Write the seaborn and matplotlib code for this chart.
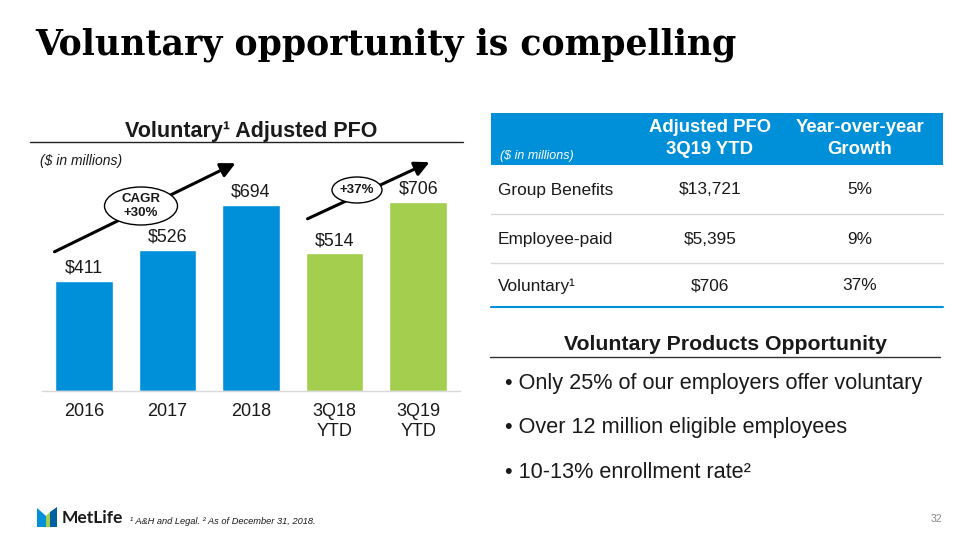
import matplotlib.pyplot as plt
import matplotlib.patches as mpatches
import seaborn as sns

# chart data
periods = ["2016", "2017", "2018", "3Q18\nYTD", "3Q19\nYTD"]
pfo_values = [411, 526, 694, 514, 706]
bar_colors = ["#0090DA", "#0090DA", "#0090DA", "#A4CE4E", "#A4CE4E"]

# table data
row_labels = ["Group Benefits", "Employee-paid", "Voluntary¹"]
row_pfo = ["$13,721", "$5,395", "$706"]
row_growth = ["5%", "9%", "37%"]

bullets = [
    "Only 25% of our employers offer voluntary",
    "Over 12 million eligible employees",
    "10-13% enrollment rate²",
]

BLUE = "#0090DA"
GREEN = "#A4CE4E"
W, H = 960, 540


def fx(x):
    return x / W


def fy(y):
    return 1 - y / H


sns.set_theme(style="white")
plt.rcParams["font.family"] = ["Liberation Sans", "DejaVu Sans"]

fig = plt.figure(figsize=(9.6, 5.4), dpi=100)

# bar chart axes: baseline at y=391px, spans x 42..460px
ymax = 940
ax_h = ymax * 0.268
ax = fig.add_axes([fx(42), fy(391), fx(460) - fx(42), ax_h / H])
sns.barplot(x=periods, y=pfo_values, hue=periods, palette=bar_colors,
            legend=False, width=0.69, saturation=1, ax=ax)
ax.set_xlim(-0.5, 4.5)
ax.set_ylim(0, ymax)
for c in ax.containers:
    ax.bar_label(c, fmt="${:,.0f}", fontsize=12.8, padding=3, color="#1a1a1a")
ax.set_xlabel("")
ax.set_ylabel("")
ax.set_yticks([])
ax.tick_params(axis="x", length=0, labelsize=13, pad=9, colors="#1a1a1a")
for s in ["top", "left", "right"]:
    ax.spines[s].set_visible(False)
ax.spines["bottom"].set_color("#D9D9D9")
ax.spines["bottom"].set_linewidth(1)
ax.set_facecolor("none")

# main title
fig.text(fx(35), fy(54), "Voluntary opportunity is compelling",
         family="DejaVu Serif", fontweight="bold", fontsize=25,
         va="baseline", ha="left", color="black")

# left panel title + rule
fig.text(fx(251), fy(131), "Voluntary¹ Adjusted PFO", fontsize=15.5,
         fontweight="bold", ha="center", va="center", color="#1a1a1a")
fig.add_artist(plt.Line2D([fx(30), fx(463)], [fy(142), fy(142)],
                          color="#222222", lw=1))
fig.text(fx(40), fy(161), "($ in millions)", fontsize=10, style="italic",
         ha="left", va="center", color="#1a1a1a")

# growth arrows
for (x0, y0), (x1, y1) in [((52, 253), (238, 162)), ((305, 220), (432, 161))]:
    fig.add_artist(mpatches.FancyArrowPatch(
        (fx(x0), fy(y0)), (fx(x1), fy(y1)), transform=fig.transFigure,
        arrowstyle="-|>", mutation_scale=22, lw=2.2, color="black", zorder=4))

for (cx, cy, ew, eh, label) in [(141, 206, 73, 38, "CAGR\n+30%"),
                                (357, 190, 50, 26, "+37%")]:
    fig.add_artist(mpatches.Ellipse((fx(cx), fy(cy)), ew / W, eh / H,
                                    transform=fig.transFigure, facecolor="white",
                                    edgecolor="black", lw=1, zorder=5))
    fig.text(fx(cx), fy(cy), label, fontsize=9.5, fontweight="bold",
             ha="center", va="center", linespacing=1.3, zorder=6,
             color="#1a1a1a")

# table
fig.add_artist(mpatches.Rectangle((fx(491), fy(165)), (943 - 491) / W, 52 / H,
                                  transform=fig.transFigure, color=BLUE, lw=0))
col_x = [710, 860]
for cx, (l1, l2) in zip(col_x, [("Adjusted PFO", "3Q19 YTD"),
                                ("Year-over-year", "Growth")]):
    fig.text(fx(cx), fy(128), l1, fontsize=13.3, fontweight="bold",
             color="white", ha="center", va="center")
    fig.text(fx(cx), fy(150), l2, fontsize=13.3, fontweight="bold",
             color="white", ha="center", va="center")
fig.text(fx(500), fy(156), "($ in millions)", fontsize=9, style="italic",
         color="white", ha="left", va="center")

row_y = [190, 239, 286]
for y, lab, v, g in zip(row_y, row_labels, row_pfo, row_growth):
    fig.text(fx(498), fy(y), lab, fontsize=12.4, ha="left", va="center",
             color="#1a1a1a")
    fig.text(fx(col_x[0]), fy(y), v, fontsize=12.4, ha="center", va="center",
             color="#1a1a1a")
    fig.text(fx(col_x[1]), fy(y), g, fontsize=12.4, ha="center", va="center",
             color="#1a1a1a")
for y in [214, 263]:
    fig.add_artist(plt.Line2D([fx(491), fx(943)], [fy(y), fy(y)],
                              color="#D9D9D9", lw=1))
fig.add_artist(plt.Line2D([fx(491), fx(943)], [fy(307), fy(307)],
                          color=BLUE, lw=1.5))

# opportunity box
fig.text(fx(725), fy(344), "Voluntary Products Opportunity", fontsize=15.3,
         fontweight="bold", ha="center", va="center", color="#1a1a1a")
fig.add_artist(plt.Line2D([fx(490), fx(940)], [fy(357), fy(357)],
                          color="#333333", lw=1))
for y, b in zip([383, 428, 472], bullets):
    fig.text(fx(505), fy(y), "• " + b, fontsize=15.6, ha="left", va="center",
             color="#1a1a1a")

# footer: logo, footnote, page number
logo_parts = [
    ([(37, 508), (46, 516), (46, 527), (37, 527)], BLUE),
    ([(46, 516), (50, 512), (50, 527), (46, 527)], GREEN),
    ([(50, 512), (57, 507), (57, 527), (50, 527)], "#0061A0"),
]
for pts, col in logo_parts:
    fig.add_artist(mpatches.Polygon([(fx(x), fy(y)) for x, y in pts],
                                    closed=True, transform=fig.transFigure,
                                    color=col, lw=0))
fig.text(fx(62), fy(518), "MetLife", family="Lato", fontweight="bold",
         fontsize=12.5, ha="left", va="center", color="#1a1a1a")
fig.text(fx(130), fy(521), "¹ A&H and Legal. ² As of December 31, 2018.",
         fontsize=6.7, style="italic", ha="left", va="center", color="#1a1a1a")
fig.text(fx(936), fy(519), "32", fontsize=7.5, ha="center", va="center",
         color="#888888")

fig.savefig("out.png", dpi=100, facecolor="white")
